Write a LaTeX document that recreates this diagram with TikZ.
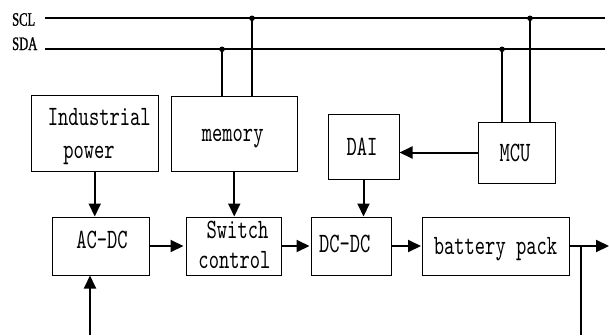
\documentclass[tikz,border=0pt]{standalone}
\usepackage{fontspec}
\newfontfamily\boxfont[FakeStretch=0.70]{lmmono10-regular.otf}
\newfontfamily\busfont[FakeStretch=0.66,FakeBold=1]{Liberation Serif}
\usetikzlibrary{arrows.meta}
\begin{document}
\begin{tikzpicture}[x=1pt,y=-1pt,
  blk/.style={draw, line width=1pt, inner sep=0pt},
  txt/.style={font=\boxfont\fontsize{28}{28}\selectfont, inner sep=0pt, anchor=base},
  bustxt/.style={font=\busfont\fontsize{19}{19}\selectfont, inner sep=0pt, anchor=base west},
  bus/.style={line width=2pt},
  drop/.style={line width=1.3pt},
  dot/.style={circle, fill, inner sep=0pt, minimum size=5.6pt},
  arr/.style={line width=2pt, -{Triangle[length=13pt,width=12pt]}},
]
\useasboundingbox (0,0) rectangle (609,335);

% bus
\node[bustxt] (scltxt) at (12,25.7) {SCL};
\node[bustxt] (sdatxt) at (12,50) {SDA};
\coordinate (sclL) at (45,18.3);
\coordinate (sclR) at (605,18.3);
\coordinate (sdaL) at (45,49.3);
\coordinate (sdaR) at (605,49.3);
\draw[bus] (sclL) -- (sclR);
\draw[bus] (sdaL) -- (sdaR);
\node[dot] (d1) at (252,18.3) {};
\node[dot] (d2) at (222,49.3) {};
\node[dot] (d3) at (530,18.3) {};
\node[dot] (d4) at (502,49.3) {};

% boxes
\node[blk, minimum width=126.5pt, minimum height=76.5pt] (ind) at (94.75,133.25) {};
\node[blk, minimum width=125.5pt, minimum height=75pt] (mem) at (234.25,133.5) {};
\node[blk, minimum width=71pt, minimum height=65.5pt] (dai) at (363.5,146.75) {};
\node[blk, minimum width=77pt, minimum height=61pt] (mcu) at (516.5,152.5) {};
\node[blk, minimum width=97pt, minimum height=58pt] (acdc) at (100.5,246) {};
\node[blk, minimum width=95.5pt, minimum height=58pt] (sw) at (233.75,246) {};
\node[blk, minimum width=80.5pt, minimum height=58pt] (dcdc) at (351.25,246) {};
\node[blk, minimum width=147pt, minimum height=58pt] (bat) at (496,246) {};

% texts
\node[txt] (t1) at (99.3,125) {Industrial};
\node[txt] (t2) at (89,158.3) {power};
\node[txt] (t3) at (232.7,141.7) {memory};
\node[txt] (t4) at (362,155) {DAI};
\node[txt] (t5) at (515,161.7) {MCU};
\node[txt] (t6) at (102,248.3) {AC-DC};
\node[txt] (t7) at (237.5,238.3) {Switch};
\node[txt] (t8) at (234.5,268.3) {control};
\node[txt] (t9) at (344.8,252.7) {DC-DC};
\node[txt] (t10) at (495.5,254) {battery pack};

% bus drops
\draw[drop] (d1) -- (d1 |- mem.north);
\draw[drop] (d2) -- (d2 |- mem.north);
\draw[drop] (d3) -- (d3 |- mcu.north);
\draw[drop] (d4) -- (d4 |- mcu.north);

% arrows
\draw[arr] (ind.south) -- (ind.south |- acdc.north);
\draw[arr] (mem.south) -- (mem.south |- sw.north);
\draw[arr] (dai.south) -- (dai.south |- dcdc.north);
\draw[arr] (mcu.west) -- (mcu.west -| dai.east);
\draw[arr, shorten >=2pt] (acdc.east) -- (sw.west);
\draw[arr, shorten >=1pt] (sw.east) -- (dcdc.west);
\draw[arr, shorten >=1pt] (dcdc.east) -- (bat.west);
\coordinate (out) at (609,246);
\draw[arr] (bat.east) -- (out);
\coordinate (tap) at (581,246);
\coordinate (tapend) at (581,335);
\draw[drop] (tap) -- (tapend);
\coordinate (in) at (90,335);
\draw[arr] (in) -- (in |- acdc.south);
\end{tikzpicture}
\end{document}
